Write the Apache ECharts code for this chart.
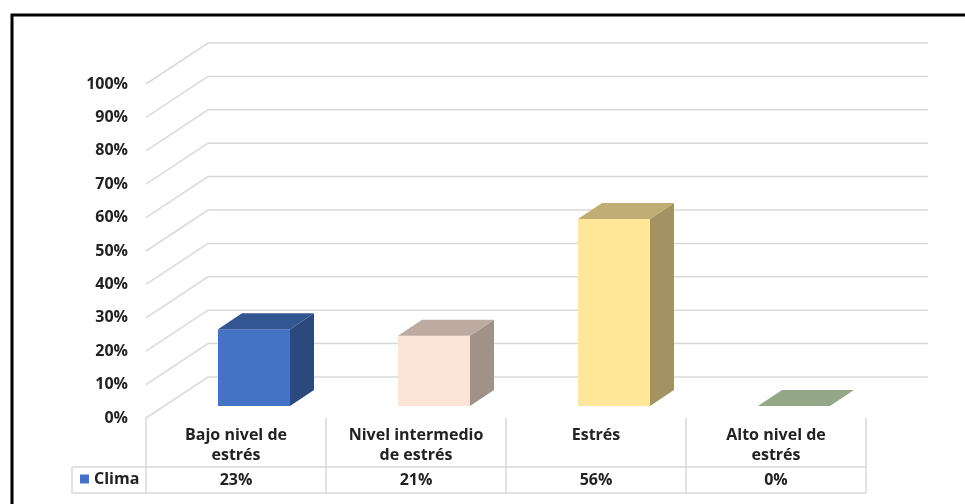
<!DOCTYPE html>
<html>
<head>
<meta charset="utf-8">
<style>
  html, body { margin: 0; padding: 0; background: #ffffff; }
  #chart { width: 965px; height: 504px; }
</style>
<script src="https://cdn.jsdelivr.net/npm/echarts@6/dist/echarts.min.js"></script>
</head>
<body>
<div id="chart"></div>
<script>
// Categories and values of the "Clima" series
const categories = ['Bajo nivel de\nestrés', 'Nivel intermedio\nde estrés', 'Estrés', 'Alto nivel de\nestrés'];
const seriesName = 'Clima';
const values = [23, 21, 56, 0];
const yTicks = [0, 10, 20, 30, 40, 50, 60, 70, 80, 90, 100];
const barColors = ['#4472C4', '#FCE4D6', '#FFE699', '#C5E0B4'];

const FONT = '"Open Sans", "DejaVu Sans", sans-serif';
const FONT_SIZE = 16;
const TEXT = '#222222';
const GRID = '#D9D9D9';

// 3D projection offsets (pixels) for the wall depth and the bar placement
const WALL_DX = 62, WALL_DY = -41;
const BAR_DX = 18, BAR_DY = -12;
const DEPTH_DX = 24, DEPTH_DY = -16;

function shade(hex, k) {
  const n = parseInt(hex.slice(1), 16);
  const r = Math.round(((n >> 16) & 255) * k);
  const g = Math.round(((n >> 8) & 255) * k);
  const b = Math.round((n & 255) * k);
  return 'rgb(' + r + ',' + g + ',' + b + ')';
}

const chart = echarts.init(document.getElementById('chart'), null, { renderer: 'canvas' });

const option = {
  animation: false,
  backgroundColor: '#ffffff',
  grid: { left: 146, right: 99, top: 84, bottom: 86, containLabel: false },
  legend: {
    data: [seriesName],
    left: 80,
    top: 471,
    padding: 0,
    itemWidth: 9,
    itemHeight: 9,
    itemGap: 6,
    icon: 'rect',
    textStyle: { fontFamily: FONT, fontWeight: 'bold', fontSize: FONT_SIZE, color: TEXT }
  },
  xAxis: {
    type: 'category',
    data: categories,
    boundaryGap: true,
    axisLine: { show: false },
    axisTick: {
      show: true,
      interval: 0,
      length: 75,
      inside: false,
      lineStyle: { color: GRID, width: 1.5 }
    },
    axisLabel: {
      interval: 0,
      margin: 7,
      fontFamily: FONT,
      fontWeight: 'bold',
      fontSize: FONT_SIZE,
      lineHeight: 20,
      color: TEXT,
      align: 'center'
    },
    splitLine: { show: false }
  },
  yAxis: {
    type: 'value',
    min: 0,
    max: 100,
    interval: 10,
    axisLine: { show: false },
    axisTick: { show: false },
    splitLine: { show: false },
    axisLabel: {
      margin: 18,
      formatter: '{value}%',
      fontFamily: FONT,
      fontWeight: 'bold',
      fontSize: FONT_SIZE,
      color: TEXT
    }
  },
  graphic: [
    // outer frame
    { type: 'rect', shape: { x: 12, y: 15, width: 1000, height: 600 },
      style: { fill: 'none', stroke: '#000000', lineWidth: 3 }, z: 10 },
    // data table: row borders and the series-name cell
    { type: 'polyline', shape: { points: [[72, 467], [866, 467]] },
      style: { stroke: GRID, lineWidth: 1.5 } },
    { type: 'polyline', shape: { points: [[72, 467], [72, 493], [866, 493]] },
      style: { stroke: GRID, lineWidth: 1.5, fill: 'none' } }
  ],
  series: [
    {
      // back wall gridlines with their receding side-wall segments
      type: 'custom',
      name: 'walls',
      silent: true,
      clip: false,
      data: yTicks.map(function (v) { return [0, v]; }),
      encode: { x: 0, y: 1 },
      renderItem: function (params, api) {
        const bw = api.size([1, 0])[0];
        const p = api.coord([0, api.value(1)]);
        const q = api.coord([categories.length - 1, api.value(1)]);
        const left = p[0] - bw / 2;
        const right = q[0] + bw / 2;
        const y = p[1];
        return {
          type: 'polyline',
          shape: { points: [[left, y], [left + WALL_DX, y + WALL_DY], [right + WALL_DX, y + WALL_DY]] },
          style: { stroke: GRID, lineWidth: 1.5, fill: 'none' }
        };
      }
    },
    {
      type: 'custom',
      name: seriesName,
      clip: false,
      itemStyle: { color: barColors[0] },
      data: values.map(function (v, i) { return [i, v]; }),
      encode: { x: 0, y: 1 },
      renderItem: function (params, api) {
        const i = params.dataIndex;
        const v = api.value(1);
        const base = api.coord([api.value(0), 0]);
        const top = api.coord([api.value(0), v]);
        const bw = api.size([1, 0])[0];
        const w = bw * 0.4;
        const x0 = base[0] + BAR_DX - w / 2;
        const x1 = x0 + w;
        const yb = base[1] + BAR_DY;
        const yt = top[1] + BAR_DY;
        const c = barColors[i];
        const children = [];
        if (yb - yt > 0.5) {
          children.push({
            type: 'polygon',
            shape: { points: [[x1, yt], [x1 + DEPTH_DX, yt + DEPTH_DY], [x1 + DEPTH_DX, yb + DEPTH_DY], [x1, yb]] },
            style: { fill: shade(c, 0.64) }
          });
          children.push({
            type: 'rect',
            shape: { x: x0, y: yt, width: w, height: yb - yt },
            style: { fill: c }
          });
        }
        children.push({
          type: 'polygon',
          shape: { points: [[x0, yt], [x1, yt], [x1 + DEPTH_DX, yt + DEPTH_DY], [x0 + DEPTH_DX, yt + DEPTH_DY]] },
          style: { fill: shade(c, 0.75) }
        });
        // value cell of the data table
        children.push({
          type: 'text',
          style: {
            text: v + '%',
            x: base[0],
            y: base[1] + 62,
            align: 'center',
            verticalAlign: 'middle',
            fontFamily: FONT,
            fontWeight: 'bold',
            fontSize: FONT_SIZE,
            fill: TEXT
          }
        });
        return { type: 'group', children: children };
      }
    }
  ]
};

chart.setOption(option);
</script>
</body>
</html>
